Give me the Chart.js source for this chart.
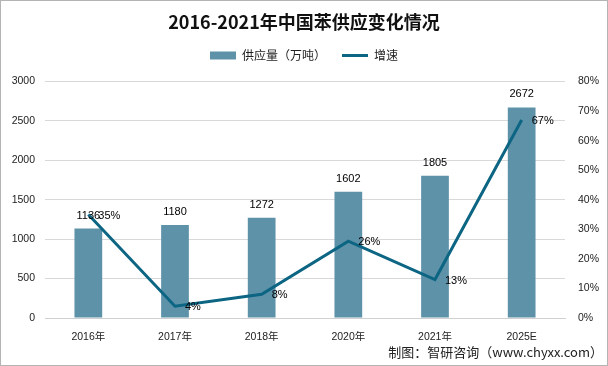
<!DOCTYPE html>
<html>
<head>
<meta charset="utf-8">
<script src="https://cdn.jsdelivr.net/npm/chart.js@4/dist/chart.umd.min.js"></script>
<style>
  html,body{margin:0;padding:0;background:#fff;}
  #wrap{width:608px;height:366px;position:relative;}
</style>
</head>
<body>
<div id="wrap"><canvas id="c" width="608" height="366"></canvas></div>
<script>
const categories = ['2016年','2017年','2018年','2020年','2021年','2025E'];
const supply = [1136, 1180, 1272, 1602, 1805, 2672];
const growth = [35, 4, 8, 26, 13, 67];
const leftTicks = [0, 500, 1000, 1500, 2000, 2500, 3000];
const rightTicks = [0, 10, 20, 30, 40, 50, 60, 70, 80];

const FONT = '"Liberation Sans", "Noto Sans CJK SC", sans-serif';
const CJK = '"Noto Sans CJK SC", sans-serif';
const BAR = '#5e92a9';
const LINE = '#0c6583';

// give the legend some extra room below it so the plot starts lower
const legendGap = {
  id:'legendGap',
  beforeLayout(chart){
    const lg = chart.legend;
    if(!lg || lg._gapPatched) return;
    const fit = lg.fit.bind(lg);
    lg.fit = function(){ fit(); this.height += 10; };
    lg._gapPatched = true;
  }
};

const labelsPlugin = {
  id:'labels',
  afterDatasetsDraw(chart){
    const ctx = chart.ctx;
    ctx.save();
    ctx.fillStyle = '#000';
    ctx.font = '11px ' + FONT;
    const bars = chart.getDatasetMeta(0).data;
    ctx.textAlign = 'center';
    ctx.textBaseline = 'middle';
    bars.forEach((el,i)=>{
      ctx.fillText(String(supply[i]), el.x, el.y - 13);
    });
    const pts = chart.getDatasetMeta(1).data;
    ctx.textAlign = 'left';
    pts.forEach((el,i)=>{
      ctx.fillText(growth[i] + '%', el.x + 10, el.y + 1);
    });
    ctx.restore();
  },
  afterDraw(chart){
    const ctx = chart.ctx;
    ctx.save();
    ctx.strokeStyle = '#b4b4b4';
    ctx.lineWidth = 1;
    ctx.strokeRect(0.5,0.5,chart.width-1,chart.height-1);
    ctx.fillStyle = '#222';
    ctx.font = '13px ' + CJK;
    ctx.textAlign = 'right';
    ctx.textBaseline = 'middle';
    ctx.fillText('制图：智研咨询（www.chyxx.com）', 603, 352);
    ctx.restore();
  }
};

new Chart(document.getElementById('c'), {
  data:{
    labels:categories,
    datasets:[
      {
        type:'bar',
        label:'供应量（万吨）',
        data:supply,
        backgroundColor:BAR,
        borderWidth:0,
        categoryPercentage:1,
        barPercentage:0.32,
        yAxisID:'y',
        order:2
      },
      {
        type:'line',
        label:'增速',
        data:growth,
        borderColor:LINE,
        backgroundColor:LINE,
        borderWidth:3,
        pointRadius:0,
        tension:0,
        yAxisID:'y1',
        order:1
      }
    ]
  },
  options:{
    responsive:false,
    animation:false,
    devicePixelRatio:1,
    layout:{padding:{top:0,right:0,bottom:0,left:0}},
    plugins:{
      title:{
        display:true,
        text:'2016-2021年中国苯供应变化情况',
        color:'#111',
        font:{family:CJK, size:18, weight:'bold'},
        padding:{top:11, bottom:1}
      },
      legend:{
        position:'top',
        labels:{
          color:'#222',
          font:{family:CJK, size:12},
          usePointStyle:true,
          boxHeight:8,
          pointStyleWidth:26,
          padding:16,
          generateLabels(chart){
            return chart.data.datasets.map((ds,i)=>({
              text:ds.label,
              fillStyle:ds.type === 'bar' ? BAR : LINE,
              strokeStyle:ds.type === 'bar' ? BAR : LINE,
              lineWidth:ds.type === 'bar' ? 0 : 3,
              pointStyle:ds.type === 'bar' ? 'rect' : 'line',
              fontColor:'#222',
              datasetIndex:i,
              hidden:false
            }));
          }
        }
      },
      tooltip:{enabled:false}
    },
    scales:{
      x:{
        grid:{display:false, drawTicks:true},
        border:{color:'#d0d0d0'},
        ticks:{color:'#222', font:{family:FONT, size:10.5}, padding:5},
        afterFit(s){ s.height = 48; }
      },
      y:{
        position:'left',
        min:0, max:3000,
        afterBuildTicks(s){ s.ticks = leftTicks.map(v=>({value:v})); },
        grid:{color:'#d9d9d9', drawTicks:false},
        border:{display:false},
        ticks:{color:'#222', font:{family:FONT, size:10.5}, padding:10, callback:v=>String(v)},
        afterFit(s){ s.width = 45; }
      },
      y1:{
        position:'right',
        min:0, max:80,
        afterBuildTicks(s){ s.ticks = rightTicks.map(v=>({value:v})); },
        grid:{display:false, drawTicks:false},
        border:{display:false},
        ticks:{color:'#222', font:{family:FONT, size:10.5}, padding:13, callback:v=>v+'%'},
        afterFit(s){ s.width = 43; }
      }
    }
  },
  plugins:[legendGap, labelsPlugin]
});
</script>
</body>
</html>
